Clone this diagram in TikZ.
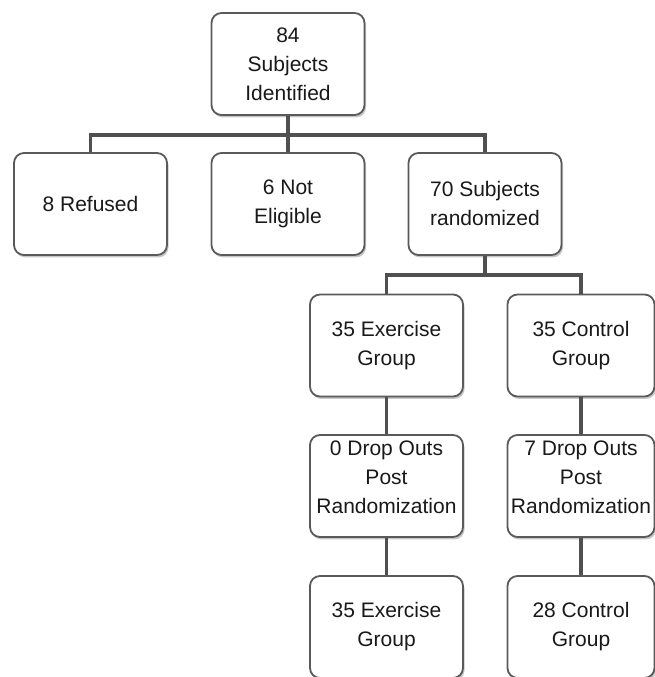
\documentclass[tikz,border=0pt]{standalone}
\usepackage{fontspec}
\setmainfont{Liberation Sans}
\usetikzlibrary{shadows}
\definecolor{boxline}{HTML}{5A5A5A}
\definecolor{connline}{HTML}{505050}
\begin{document}
\begin{tikzpicture}[x=1pt,y=1pt,
  box/.style={draw=boxline, line width=1.8pt, rounded corners=10pt, fill=white,
    minimum width=153pt, minimum height=102pt, align=center, inner sep=0pt,
    font=\fontsize{21}{29}\selectfont, text=black!90,
    drop shadow={shadow xshift=1.5pt, shadow yshift=-2.5pt, opacity=0.22, fill=black}},
  narrow/.style={minimum width=147pt},
  txt/.style={align=center, inner sep=0pt, font=\fontsize{21}{29}\selectfont, text=black!90},
  conn/.style={draw=connline, line width=3.5pt}]
\useasboundingbox (0,0) rectangle (655,677);
% row 1
\node[box] (top) at (288,613) {84\\Subjects\\Identified};
% row 2
\node[box] (ref) at (90.5,473) {8 Refused};
\node[box] (ne) at (288,473) {6 Not\\Eligible};
\node[box] (rand) at (485,473) {70 Subjects\\randomized};
% row 3
\node[box] (ex1) at (386.5,331.5) {35 Exercise\\Group};
\node[box,narrow] (co1) at (581,331.5) {35 Control\\Group};
% row 4
\node[box] (ex2) at (386.5,191) {};
\node[txt] (ex2t) at ([yshift=9pt]ex2.center) {0 Drop Outs\\Post\\Randomization};
\node[box,narrow] (co2) at (581,191) {};
\node[txt] (co2t) at ([yshift=9pt]co2.center) {7 Drop Outs\\Post\\Randomization};
% row 5
\node[box] (ex3) at (386.5,50) {35 Exercise\\Group};
\node[box,narrow] (co3) at (581,50) {28 Control\\Group};
% connectors
\coordinate (b1) at (288,542);
\coordinate (b2) at (485,402);
\draw[conn] (top.south) -- (ne.north);
\draw[conn] (ref.north) |- (b1) -| (rand.north);
\draw[conn] (rand.south) -- (b2);
\draw[conn] (ex1.north) |- (b2) -| (co1.north);
\draw[conn] (ex1.south) -- (ex2.north);
\draw[conn] (co1.south) -- (co2.north);
\draw[conn] (ex2.south) -- (ex3.north);
\draw[conn] (co2.south) -- (co3.north);
\end{tikzpicture}
\end{document}
